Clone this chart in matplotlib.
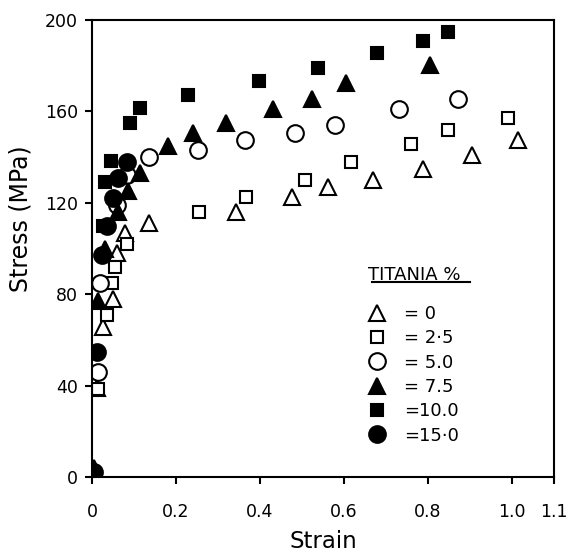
import numpy as np
import matplotlib
matplotlib.use("Agg")
import matplotlib.pyplot as plt

# stress-strain data, one pair of arrays per titania content
strain_0 = [0.012, 0.026, 0.051, 0.059, 0.079, 0.136, 0.343, 0.476, 0.562, 0.669, 0.788, 0.905, 1.014]
stress_0 = [39, 65.5, 78, 98, 107, 111, 116, 122.5, 127, 130, 135, 141, 147.5]

strain_25 = [0.014, 0.036, 0.048, 0.055, 0.083, 0.255, 0.367, 0.507, 0.616, 0.761, 0.848, 0.991]
stress_25 = [38.5, 71, 85, 92, 102, 116, 122.5, 130, 138, 145.6, 152, 157]

strain_50 = [0.015, 0.019, 0.059, 0.083, 0.136, 0.253, 0.364, 0.483, 0.579, 0.732, 0.872]
stress_50 = [46, 85, 119, 132, 140, 143, 147.5, 150.7, 154, 161, 165.4]

strain_75 = [0.005, 0.014, 0.030, 0.062, 0.086, 0.114, 0.181, 0.240, 0.320, 0.431, 0.525, 0.605, 0.805]
stress_75 = [4, 77, 100, 116, 125, 133, 145, 150.6, 155, 161, 165.3, 172.6, 180.3]

strain_100 = [0.027, 0.030, 0.045, 0.090, 0.114, 0.229, 0.398, 0.539, 0.678, 0.789, 0.848]
stress_100 = [110, 129, 138.5, 154.8, 161.3, 167.2, 173.4, 179.1, 185.4, 191, 194.6]

strain_150 = [0.005, 0.012, 0.024, 0.035, 0.050, 0.063, 0.083]
stress_150 = [2, 54.5, 97, 110, 122, 131, 138]

labels = ["= 0", "= 2\u00b75", "= 5.0", "= 7.5", "=10.0", "=15\u00b70"]
xticks = [0, 0.2, 0.4, 0.6, 0.8, 1.0, 1.1]
xticklabels = ["0", "0.2", "0.4", "0.6", "0.8", "1.0", "1.1"]
yticks = [0, 40, 80, 120, 160, 200]

plt.rcParams['font.family'] = ['DejaVu Sans']

fig = plt.figure(figsize=(5.68, 5.55), dpi=100)
ax = fig.add_axes([0.162, 0.1405, 0.813, 0.8235])

ms = 12
ew = 1.5
ax.plot(strain_0, stress_0, ls='none', marker='^', ms=ms, mfc='white', mec='black', mew=ew, label=labels[0])
ax.plot(strain_25, stress_25, ls='none', marker='s', ms=ms - 3, mfc='white', mec='black', mew=ew, label=labels[1])
ax.plot(strain_50, stress_50, ls='none', marker='o', ms=ms, mfc='white', mec='black', mew=ew, label=labels[2])
ax.plot(strain_75, stress_75, ls='none', marker='^', ms=ms, mfc='black', mec='black', mew=ew, label=labels[3])
ax.plot(strain_100, stress_100, ls='none', marker='s', ms=ms - 3, mfc='black', mec='black', mew=ew, label=labels[4])
ax.plot(strain_150, stress_150, ls='none', marker='o', ms=ms, mfc='black', mec='black', mew=ew, label=labels[5])

ax.set_xlim(0, 1.1)
ax.set_ylim(0, 200)
ax.set_xticks(xticks)
ax.set_xticklabels(xticklabels)
ax.set_yticks(yticks)
ax.tick_params(direction='out', length=5, width=1.5, labelsize=12.5)
ax.tick_params(axis='x', pad=14)
ax.tick_params(axis='y', pad=5)
for s in ax.spines.values():
	s.set_linewidth(1.5)

ax.set_xlabel("Strain", fontsize=16.5, labelpad=6)
ax.set_ylabel("Stress (MPa)", fontsize=17)
ax.yaxis.set_label_coords(-0.128, 0.565)

leg = ax.legend(loc='upper left', bbox_to_anchor=(0.570, 0.489), frameon=False,
	title="TITANIA %\n", alignment='left', fontsize=13, title_fontsize=13,
	borderpad=0.7, labelspacing=0.35, handlelength=1.0, handletextpad=1.0,
	borderaxespad=0)
leg.get_title().set_linespacing(0.75)
# underline of the legend title
ax.plot([0.606, 0.818], [0.427, 0.427], color='black', lw=1.5, transform=ax.transAxes, clip_on=False)

fig.savefig("out.png", dpi=100)
